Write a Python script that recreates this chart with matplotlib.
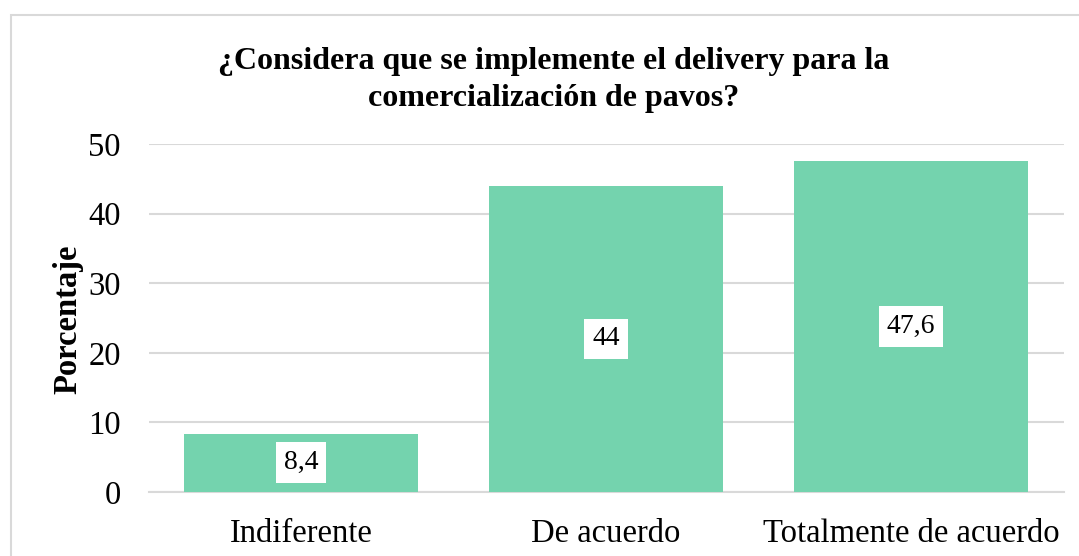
import matplotlib
matplotlib.use("Agg")
import matplotlib.pyplot as plt
from matplotlib.patches import Rectangle

categories = ["Indiferente", "De acuerdo", "Totalmente de acuerdo"]
values = [8.4, 44.0, 47.6]
value_labels = ["8,4", "44", "47,6"]
yticks = [0, 10, 20, 30, 40, 50]

plt.rcParams['font.family'] = ['Liberation Serif', 'DejaVu Serif']

W, H = 1079, 556
fig = plt.figure(figsize=(W / 100, H / 100), dpi=100)

# outer chart border
fig.patches.append(Rectangle((11 / W, -0.1), 1.2, 1 - 15 / H + 0.1, transform=fig.transFigure,
                             fill=False, edgecolor='#D9D9D9', linewidth=1.5))

ax = fig.add_axes([148.5 / W, 1 - 492 / H, (1063.5 - 148.5) / W, (492 - 144) / H])
x = list(range(len(categories)))
bars = ax.bar(x, values, width=0.77, color='#74D3AE', zorder=3)
ax.set_xlim(-0.5, len(categories) - 0.5)
ax.set_ylim(0, 50)
ax.set_yticks(yticks)
ax.set_xticks(x)
ax.set_xticklabels(categories, fontsize=23.5)
ax.tick_params(axis='y', labelsize=23.5, length=0, pad=20)
ax.tick_params(axis='x', length=0, pad=19)
ax.grid(axis='y', color='#D9D9D9', linewidth=1.5, zorder=0)
for s in ['top', 'right', 'left']:
    ax.spines[s].set_visible(False)
ax.spines['bottom'].set_color('#D9D9D9')
ax.spines['bottom'].set_linewidth(1.5)

for xi, v, lab in zip(x, values, value_labels):
    ax.text(xi, v / 2, lab, ha='center', va='center', fontsize=20, zorder=4,
            bbox=dict(facecolor='white', edgecolor='none', pad=5.5))

ax.set_ylabel("Porcentaje", fontsize=23.5, fontweight='bold')
ax.yaxis.set_label_coords((83 - 148.5) / (1063.5 - 148.5), (492 - 319) / (492 - 144))
fig.text(554 / W, 1 - 80 / H, "¿Considera que se implemente el delivery para la\ncomercialización de pavos?",
         ha='center', va='center', fontsize=23, fontweight='bold', linespacing=1.32)

fig.savefig("out.png", dpi=100)
